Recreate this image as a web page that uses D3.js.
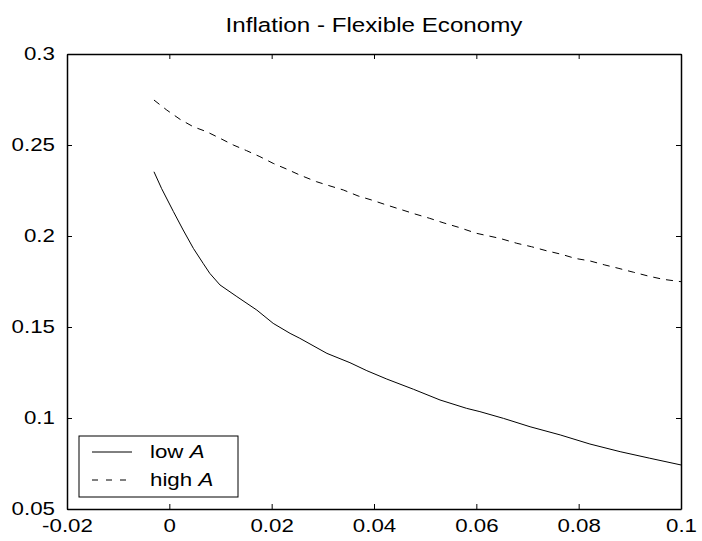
<!DOCTYPE html>
<html>
<head>
<meta charset="utf-8">
<script src="https://cdn.jsdelivr.net/npm/d3@7"></script>
<style>
  html, body { margin: 0; padding: 0; background: #fff; }
  svg { display: block; }
  text { font-family: "Liberation Sans", Arial, Helvetica, sans-serif; fill: #000; }
</style>
</head>
<body>
<svg id="chart" width="702" height="541"></svg>
<script>
const title = "Inflation - Flexible Economy";

const xTicks = [-0.02, 0, 0.02, 0.04, 0.06, 0.08, 0.1];
const xTickLabels = ["-0.02", "0", "0.02", "0.04", "0.06", "0.08", "0.1"];
const yTicks = [0.05, 0.1, 0.15, 0.2, 0.25, 0.3];
const yTickLabels = ["0.05", "0.1", "0.15", "0.2", "0.25", "0.3"];

const seriesNames = ["low ", "high "];

const lowX = [-0.003, -0.0015, 0.0008, 0.0027, 0.0047, 0.0066, 0.0079, 0.0099, 0.0132, 0.0171,
              0.0203, 0.0236, 0.0255, 0.0308, 0.0353, 0.0386, 0.0425, 0.0477, 0.0529, 0.0581,
              0.0607, 0.0653, 0.0705, 0.0764, 0.0822, 0.0881, 0.0939, 0.1];
const lowY = [0.2353, 0.226, 0.2134, 0.2033, 0.1932, 0.185, 0.1795, 0.1731, 0.1667, 0.1593,
              0.152, 0.1465, 0.1438, 0.1355, 0.1304, 0.126, 0.1214, 0.1158, 0.1099, 0.1053,
              0.1035, 0.0998, 0.0952, 0.0907, 0.0857, 0.0815, 0.0779, 0.0742];

const highX = [-0.003, -0.0005, 0.0021, 0.0047, 0.0073, 0.0099, 0.0125, 0.0151, 0.0177, 0.0203,
               0.0229, 0.0255, 0.0288, 0.0314, 0.034, 0.0369, 0.0395, 0.0425, 0.0451, 0.048,
               0.0509, 0.0535, 0.0565, 0.06, 0.0646, 0.0679, 0.0708, 0.0737, 0.0767, 0.0793,
               0.0822, 0.0851, 0.0877, 0.0907, 0.0936, 0.0965, 0.1];
const highY = [0.2747, 0.2692, 0.2641, 0.26, 0.2573, 0.2537, 0.25, 0.2469, 0.2436, 0.2399,
               0.2368, 0.2335, 0.2298, 0.2275, 0.2253, 0.222, 0.2198, 0.217, 0.2147, 0.2121,
               0.2097, 0.2073, 0.2048, 0.2015, 0.1987, 0.196, 0.1941, 0.1919, 0.1899, 0.1877,
               0.1863, 0.1841, 0.1823, 0.1801, 0.178, 0.1762, 0.1749];

const SX = 1.24; // horizontal stretch of the reference's lettering

const svg = d3.select("#chart");
svg.append("rect").attr("width", 702).attr("height", 541).attr("fill", "#fff");

const L = 67, R = 681, T = 54, B = 509;
const x = d3.scaleLinear().domain([-0.02, 0.1]).range([L, R]);
const y = d3.scaleLinear().domain([0.05, 0.3]).range([B, T]);

function styleAxis(g) {
  g.selectAll("path.domain").attr("stroke", "#000").attr("stroke-width", 1.5);
  g.selectAll(".tick line").attr("stroke", "#000").attr("stroke-width", 1);
  g.selectAll(".tick text")
    .attr("font-size", "18px")
    .attr("font-family", "Liberation Sans, Arial, sans-serif")
    .attr("fill", "#000")
    .attr("transform", `scale(${SX},1)`);
}

// bottom axis
svg.append("g").attr("transform", `translate(0,${B})`)
  .call(d3.axisBottom(x).tickValues(xTicks).tickFormat((d, i) => xTickLabels[i])
        .tickSizeInner(-5).tickSizeOuter(0).tickPadding(10))
  .call(styleAxis);
// top axis
svg.append("g").attr("transform", `translate(0,${T})`)
  .call(d3.axisTop(x).tickValues(xTicks).tickFormat("")
        .tickSizeInner(-5).tickSizeOuter(0))
  .call(styleAxis);
// left axis
svg.append("g").attr("transform", `translate(${L},0)`)
  .call(d3.axisLeft(y).tickValues(yTicks).tickFormat((d, i) => yTickLabels[i])
        .tickSizeInner(-5).tickSizeOuter(0).tickPadding(9.7))
  .call(styleAxis);
// right axis
svg.append("g").attr("transform", `translate(${R},0)`)
  .call(d3.axisRight(y).tickValues(yTicks).tickFormat("")
        .tickSizeInner(-5).tickSizeOuter(0))
  .call(styleAxis);

svg.selectAll("g").attr("font-family", null).attr("font-size", null);
svg.selectAll(".tick text").attr("font-size", "18px");

// title
svg.append("text")
  .attr("transform", `translate(${(L + R) / 2},32) scale(${SX},1)`)
  .attr("text-anchor", "middle")
  .attr("font-size", "19.5px")
  .text(title);

// lines
const line = d3.line().x(d => x(d[0])).y(d => y(d[1]));
const lowData = lowX.map((v, i) => [v, lowY[i]]);
const highData = highX.map((v, i) => [v, highY[i]]);

const plot = svg.append("g");
plot.append("path").datum(lowData)
  .attr("d", line).attr("fill", "none").attr("stroke", "#000").attr("stroke-width", 1);
plot.append("path").datum(highData)
  .attr("d", line).attr("fill", "none").attr("stroke", "#000").attr("stroke-width", 1)
  .attr("stroke-dasharray", "7,6");

// legend
const lg = svg.append("g");
lg.append("rect").attr("x", 79).attr("y", 436).attr("width", 159).attr("height", 61)
  .attr("fill", "#fff").attr("stroke", "#000").attr("stroke-width", 1);
const entries = [
  { name: seriesNames[0], dash: null, yy: 452 },
  { name: seriesNames[1], dash: "6,8", yy: 480 }
];
entries.forEach(e => {
  lg.append("line").attr("x1", 92).attr("x2", 132).attr("y1", e.yy).attr("y2", e.yy)
    .attr("stroke", "#000").attr("stroke-width", 1)
    .attr("stroke-dasharray", e.dash);
  const t = lg.append("text")
    .attr("transform", `translate(150,${e.yy + 6}) scale(${SX},1)`)
    .attr("font-size", "18px");
  t.append("tspan").text(e.name);
  t.append("tspan").attr("font-style", "italic").text("A");
});
</script>
</body>
</html>
